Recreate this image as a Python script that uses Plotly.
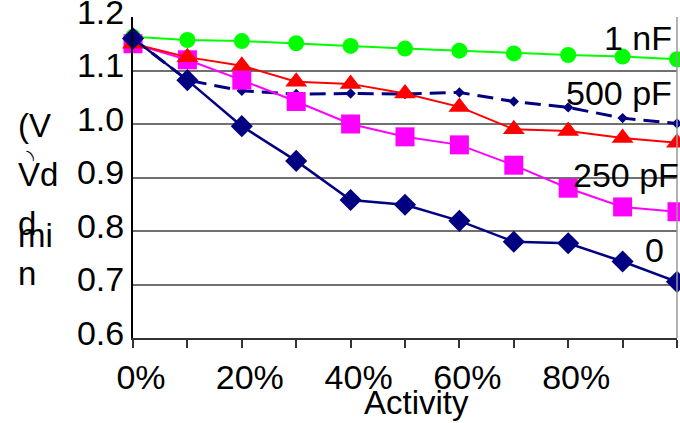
import plotly.graph_objects as go

# Switching activity (fraction of cycles)
activity = [0.0, 0.1, 0.2, 0.3, 0.4, 0.5, 0.6, 0.7, 0.8, 0.9, 1.0]

# Minimum supply voltage Vddmin (V) for each decoupling capacitance
vdd_1nf = [1.163, 1.157, 1.155, 1.151, 1.146, 1.141, 1.137, 1.132, 1.129, 1.126, 1.121]
vdd_500pf_dash = [1.160, 1.082, 1.062, 1.056, 1.057, 1.056, 1.059, 1.042, 1.031, 1.011, 1.001]
vdd_500pf = [1.150, 1.125, 1.109, 1.079, 1.075, 1.057, 1.032, 0.990, 0.987, 0.974, 0.965]
vdd_250pf = [1.150, 1.120, 1.082, 1.042, 1.000, 0.976, 0.961, 0.923, 0.880, 0.845, 0.836]
vdd_0 = [1.160, 1.082, 0.996, 0.931, 0.858, 0.849, 0.819, 0.780, 0.777, 0.743, 0.705]

x_tick_vals = [0.0, 0.1, 0.2, 0.3, 0.4, 0.5, 0.6, 0.7, 0.8, 0.9, 1.0]
x_tick_text = ["0%", "", "20%", "", "40%", "", "60%", "", "80%", "", ""]
y_tick_vals = [0.6, 0.7, 0.8, 0.9, 1.0, 1.1, 1.2]
y_tick_text = ["0.6", "0.7", "0.8", "0.9", "1.0", "1.1", "1.2"]

# Curve labels: (text, paper-x of right edge, voltage position)
curve_labels = [
    ("1 nF", 0.995, 1.16),
    ("500 pF", 0.995, 1.058),
    ("250 pF", 1.008, 0.904),
    ("0", 0.98, 0.765),
]

FONT = "Liberation Sans, Arial, sans-serif"
NAVY = "#000080"
FS = 34

fig = go.Figure()

fig.add_trace(go.Scatter(
    x=activity, y=vdd_500pf_dash, mode="lines+markers",
    line=dict(color=NAVY, width=3, dash="16px,8px"),
    marker=dict(symbol="diamond", size=8, color=NAVY),
    cliponaxis=False, showlegend=False,
))
fig.add_trace(go.Scatter(
    x=activity, y=vdd_1nf, mode="lines+markers",
    line=dict(color="#00ff00", width=2),
    marker=dict(symbol="circle", size=16, color="#00ff00"),
    cliponaxis=False, showlegend=False,
))
fig.add_trace(go.Scatter(
    x=activity, y=vdd_250pf, mode="lines+markers",
    line=dict(color="#ff00ff", width=2),
    marker=dict(symbol="square", size=19, color="#ff00ff"),
    cliponaxis=False, showlegend=False,
))
fig.add_trace(go.Scatter(
    x=activity, y=vdd_500pf, mode="lines+markers",
    line=dict(color="#ff0000", width=2),
    marker=dict(symbol="triangle-up", size=19, color="#ff0000"),
    cliponaxis=False, showlegend=False,
))
fig.add_trace(go.Scatter(
    x=activity, y=vdd_0, mode="lines+markers",
    line=dict(color=NAVY, width=2.5),
    marker=dict(symbol="diamond", size=17, color=NAVY),
    cliponaxis=False, showlegend=False,
))

annotations = []
for text, xp, yv in curve_labels:
    annotations.append(dict(
        x=xp, y=yv, xref="paper", yref="y", text=text, showarrow=False,
        xanchor="right", yanchor="middle",
        font=dict(family=FONT, size=FS, color="black"),
    ))

# Axis titles
annotations.append(dict(
    x=0.522, y=-0.2, xref="paper", yref="paper", text="Activity",
    showarrow=False, xanchor="center", yanchor="middle",
    font=dict(family=FONT, size=33, color="black"),
))
y_title_lines = [("(V", 0.662), ("Vd", 0.51), ("d", 0.358), ("mi", 0.319), ("n", 0.2)]
for text, yp in y_title_lines:
    annotations.append(dict(
        x=-0.215, y=yp, xref="paper", yref="paper", text=text,
        showarrow=False, xanchor="left", yanchor="middle",
        font=dict(family=FONT, size=33, color="black"),
    ))
annotations.append(dict(
    x=-0.205, y=0.573, xref="paper", yref="paper", text=")",
    showarrow=False, xanchor="left", yanchor="middle", textangle=-35,
    font=dict(family=FONT, size=13, color="black"),
))

fig.update_layout(
    width=680, height=423,
    margin=dict(l=133, r=3, t=17, b=85),
    paper_bgcolor="white", plot_bgcolor="white",
    font=dict(family=FONT, size=FS, color="black"),
    annotations=annotations,
    shapes=[dict(type="line", xref="paper", yref="paper", x0=1, x1=1, y0=0, y1=1,
                 line=dict(color="#999999", width=1.5))],
)
fig.update_xaxes(
    range=[0, 1], tickvals=x_tick_vals, ticktext=x_tick_text,
    ticks="outside", ticklen=8, tickwidth=1.5, tickcolor="#333",
    showline=True, linecolor="#333", linewidth=2,
    showgrid=False, zeroline=False, automargin=False,
    tickfont=dict(family=FONT, size=FS), ticklabelshift=8,
    ticklabeloverflow="allow",
)
fig.update_yaxes(
    range=[0.6, 1.2], tickvals=y_tick_vals, ticktext=y_tick_text,
    showline=True, linecolor="black", linewidth=2,
    showgrid=True, gridcolor="#707070", gridwidth=1.5, zeroline=False,
    automargin=False,
    tickfont=dict(family=FONT, size=FS), ticklabelshift=-5,
    ticklabeloverflow="allow",
)

fig.write_html("out.html")
